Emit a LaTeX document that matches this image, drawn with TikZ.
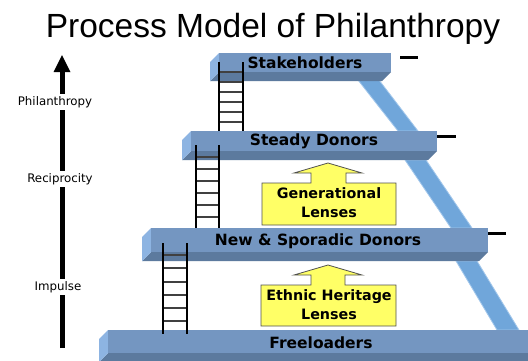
\documentclass[tikz,border=0pt]{standalone}
\usepackage{fontspec}
\setmainfont{DejaVu Sans}
\newfontfamily\headfont{Liberation Sans}
\definecolor{barfront}{HTML}{7496C1}
\definecolor{barbottom}{HTML}{5C7A9E}
\definecolor{barside}{HTML}{8DB4E2}
\definecolor{slidefill}{HTML}{70A6DA}
\definecolor{slideedge}{HTML}{A4C8EC}
\definecolor{lensfill}{HTML}{FFFF66}
\definecolor{lensline}{HTML}{505050}
\definecolor{rungcol}{HTML}{404040}

% 3D bar: #1 left x, #2 right x, #3 top y, #4 front bottom y, #5 depth
\newcommand\tierbar[5]{%
  \fill[barbottom] (#1,#4) -- (#2,#4) -- ({#2-#5},{#4+#5}) -- ({#1-#5},{#4+#5}) -- cycle;
  \fill[barside] (#1,#3) -- (#1,#4) -- ({#1-#5},{#4+#5}) -- ({#1-#5},{#3+#5}) -- cycle;
  \fill[barfront] (#1,#3) rectangle (#2,#4);
}
% ladder: #1 left rail x, #2 right rail x, #3 top y, #4 bottom y, #5 list of rung heights
\newcommand\ladder[5]{%
  \foreach \r in {#5} {\draw[rung] (#1,\r) -- (#2,\r);}
  \draw[rail] (#1,#3) -- (#1,#4);
  \draw[rail] (#2,#3) -- (#2,#4);
}
% lens box with upward arrow: #1 left, #2 right, #3 box top, #4 box bottom,
% #5 shaft left, #6 shaft right, #7 head left, #8 head right, #9 head base y
\newcommand\lensbox[9]{%
  \filldraw[lens] (#1,#4) -- (#2,#4) -- (#2,#3) -- (#6,#3) -- (#6,#9) -- (#8,#9)
    -- ({(#7+#8)/2},{#9-10}) -- (#7,#9) -- (#5,#9) -- (#5,#3) -- (#1,#3) -- cycle;
}

\begin{document}
\begin{tikzpicture}[x=1pt,y=-1pt,
  bartext/.style={font=\fontsize{15.5}{17}\selectfont\bfseries, inner sep=0pt},
  lenstext/.style={font=\fontsize{14.3}{19}\selectfont\bfseries, align=center, inner sep=0pt},
  sidelabel/.style={font=\fontsize{11.8}{13}\selectfont, fill=white, inner sep=2pt},
  rail/.style={line width=2.4pt, black},
  rung/.style={line width=1.3pt, rungcol},
  slide/.style={fill=slidefill, draw=slideedge, line width=0.8pt},
  lens/.style={fill=lensfill, draw=lensline, line width=0.8pt},
  dashmark/.style={line width=3pt, black}]
\clip (0,0) rectangle (528,360);
\fill[white] (0,0) rectangle (528,360);

% title
\node[font=\headfont\fontsize{33.5}{36}\selectfont, anchor=base, inner sep=0pt] (title) at (273,37) {Process Model of Philanthropy};

% progression axis
\draw[line width=5pt] (62,348) -- (62,70);
\fill (53.5,72) -- (62,55) -- (70.5,72) -- cycle;
\node[sidelabel] (philanthropy) at (55,102) {Philanthropy};
\node[sidelabel] (reciprocity) at (60,179) {Reciprocity};
\node[sidelabel] (impulse) at (58,287) {Impulse};

% slides between levels
\filldraw[slide] (358,80) -- (379,80) -- (418,131) -- (398,131) -- cycle;
\filldraw[slide] (405,160) -- (426,160) -- (472,228) -- (451,228) -- cycle;
\filldraw[slide] (456,261) -- (477,261) -- (519,330) -- (497,330) -- cycle;

% level bars
\tierbar{219}{391}{53}{72}{9}
\tierbar{191}{437}{131}{151}{9}
\tierbar{151}{488}{228}{252}{9}
\tierbar{108}{560}{330}{353}{9}

% ladders
\ladder{219}{243}{62}{131}{72,82,92,102,112,122}
\ladder{196}{219}{145}{228}{157,169,181,193,205,217}
\ladder{163}{187}{243}{334}{255,268,282,295,308,321}

% level names
\node[bartext] (stake) at (305,63) {Stakeholders};
\node[bartext] (steady) at (314,141) {Steady Donors};
\node[bartext] (newsp) at (318,241) {New \& Sporadic Donors};
\node[bartext] (free) at (321,343) {Freeloaders};

% side marks
\draw[dashmark] (400,57) -- (418,57);
\draw[dashmark] (437,136) -- (456,136);
\draw[dashmark] (488,233) -- (506,233);

% lenses
\lensbox{262}{396}{183}{225}{311}{346}{294}{362}{173}
\node[lenstext] (gen) at (329,203) {Generational\\Lenses};
\lensbox{261}{396}{285}{326}{311}{345}{294}{362}{275}
\node[lenstext] (eth) at (329,305) {Ethnic Heritage\\Lenses};
\end{tikzpicture}
\end{document}
